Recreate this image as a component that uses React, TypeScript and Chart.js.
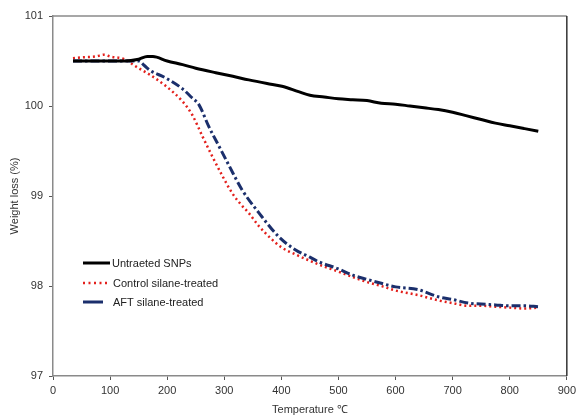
import React, { useEffect, useRef } from "react";
import { Chart, registerables } from "chart.js";

Chart.register(...registerables);

// Untreated SNPs
const untreatedTemp = [35, 50, 75, 100, 125, 150, 165, 175, 200, 227, 250, 285, 315, 343, 375, 401, 430, 450, 475, 500, 525, 550, 575, 600, 625, 650, 675, 700, 725, 750, 775, 800, 825, 850];
const untreatedWeight = [100.5, 100.5, 100.5, 100.5, 100.5, 100.52, 100.55, 100.55, 100.5, 100.46, 100.42, 100.37, 100.33, 100.29, 100.25, 100.22, 100.16, 100.12, 100.1, 100.08, 100.07, 100.06, 100.03, 100.02, 100.0, 99.98, 99.96, 99.93, 99.89, 99.85, 99.81, 99.78, 99.75, 99.72];

// Control silane-treated
const controlTemp = [35, 50, 75, 90, 100, 125, 140, 150, 169, 198, 227, 244, 262, 279, 297, 314, 330, 343, 360, 383, 400, 425, 450, 465, 500, 525, 552, 575, 600, 639, 675, 700, 727, 750, 775, 800, 825, 850];
const controlWeight = [100.53, 100.54, 100.55, 100.57, 100.55, 100.52, 100.46, 100.42, 100.35, 100.22, 100.05, 99.9, 99.66, 99.44, 99.22, 99.03, 98.9, 98.81, 98.67, 98.52, 98.43, 98.35, 98.28, 98.24, 98.16, 98.1, 98.04, 98.0, 97.95, 97.9, 97.84, 97.81, 97.78, 97.78, 97.77, 97.76, 97.75, 97.76];

// AFT silane-treated
const aftTemp = [35, 50, 75, 100, 125, 150, 160, 169, 198, 227, 242, 256, 273, 291, 309, 331, 361, 395, 425, 450, 465, 500, 525, 552, 575, 600, 639, 675, 700, 727, 750, 775, 800, 825, 850];
const aftWeight = [100.5, 100.5, 100.5, 100.5, 100.5, 100.5, 100.45, 100.4, 100.31, 100.19, 100.1, 100.01, 99.77, 99.55, 99.33, 99.07, 98.81, 98.55, 98.4, 98.32, 98.27, 98.19, 98.12, 98.07, 98.03, 97.99, 97.96, 97.88, 97.85, 97.81, 97.8, 97.79, 97.78, 97.78, 97.77];

const seriesLabels = ["Untraeted SNPs", "Control silane-treated", "AFT silane-treated"];
const xTitle = "Temperature \u2103";
const yTitle = "Weight loss (%)";

const FONT = "'Liberation Sans', Arial, sans-serif";

const pairs = (xs: number[], ys: number[]) => xs.map((x, i) => ({ x, y: ys[i] }));

export default function App() {
  const ref = useRef<HTMLCanvasElement>(null);

  useEffect(() => {
    if (!ref.current) return;

    const boxPlugin = {
      id: "boxAndLegend",
      beforeDatasetsDraw(chart: any) {
        const { ctx, chartArea: a } = chart;
        ctx.save();
        ctx.lineWidth = 1.5;
        ctx.strokeStyle = "#8a8a8a";
        ctx.beginPath();
        ctx.moveTo(a.left, a.top);
        ctx.lineTo(a.right, a.top);
        ctx.stroke();
        ctx.strokeStyle = "#333";
        ctx.beginPath();
        ctx.moveTo(a.right, a.top);
        ctx.lineTo(a.right, a.bottom);
        ctx.stroke();
        ctx.restore();
      },
      afterDraw(chart: any) {
        const { ctx } = chart;
        const rows = [
          { y: 263, color: "#000", width: 3, dash: [] as number[], x2: 110, tx: 112 },
          { y: 283, color: "#e3201c", width: 2.5, dash: [2, 3.5], x2: 110, tx: 113 },
          { y: 302, color: "#1b2f6c", width: 3, dash: [] as number[], x2: 103, tx: 113 },
        ];
        ctx.save();
        rows.forEach((r, i) => {
          ctx.beginPath();
          ctx.setLineDash(r.dash);
          ctx.lineWidth = r.width;
          ctx.strokeStyle = r.color;
          ctx.moveTo(83, r.y);
          ctx.lineTo(r.x2, r.y);
          ctx.stroke();
          ctx.setLineDash([]);
          ctx.fillStyle = "#222";
          ctx.font = `11px ${FONT}`;
          ctx.textBaseline = "middle";
          ctx.textAlign = "left";
          ctx.fillText(seriesLabels[i], r.tx, r.y + 0.5);
        });
        ctx.restore();
      },
    };

    const chart = new Chart(ref.current, {
      type: "line",
      data: {
        datasets: [
          {
            label: seriesLabels[0],
            data: pairs(untreatedTemp, untreatedWeight),
            borderColor: "#000",
            borderWidth: 3,
            pointRadius: 0,
            cubicInterpolationMode: "monotone",
            order: 0,
          },
          {
            label: seriesLabels[1],
            data: pairs(controlTemp, controlWeight),
            borderColor: "#e3201c",
            borderWidth: 2.5,
            borderDash: [2, 3],
            pointRadius: 0,
            cubicInterpolationMode: "monotone",
            order: 2,
          },
          {
            label: seriesLabels[2],
            data: pairs(aftTemp, aftWeight),
            borderColor: "#1b2f6c",
            borderWidth: 3,
            borderDash: [9, 3, 2.5, 3],
            pointRadius: 0,
            cubicInterpolationMode: "monotone",
            order: 1,
          },
        ],
      },
      options: {
        animation: false,
        responsive: false,
        maintainAspectRatio: false,
        layout: { padding: { top: 16, right: 11, left: 0, bottom: 0 } },
        plugins: {
          legend: { display: false },
          tooltip: { enabled: false },
        },
        scales: {
          x: {
            type: "linear",
            min: 0,
            max: 900,
            ticks: {
              stepSize: 100,
              color: "#333",
              font: { family: FONT, size: 11 },
              padding: 4,
              maxRotation: 0,
            },
            grid: { display: true, drawOnChartArea: false, drawTicks: true, tickLength: 4, color: "#555", lineWidth: 1 },
            border: { display: true, color: "#8a8a8a", width: 1.5 },
            title: {
              display: true,
              text: xTitle,
              color: "#333",
              font: { family: FONT, size: 11 },
              padding: { top: 0, bottom: 0 },
            },
            afterFit: (s: any) => {
              s.height = 41;
            },
          },
          y: {
            type: "linear",
            min: 97,
            max: 101,
            ticks: {
              stepSize: 1,
              color: "#333",
              font: { family: FONT, size: 11 },
              padding: 6,
            },
            grid: { display: true, drawOnChartArea: false, drawTicks: true, tickLength: 4, color: "#555", lineWidth: 1 },
            border: { display: true, color: "#8a8a8a", width: 1.5 },
            title: {
              display: true,
              text: yTitle,
              color: "#333",
              font: { family: FONT, size: 11 },
              padding: { top: 8, bottom: 0 },
            },
            afterFit: (s: any) => {
              s.width = 53;
            },
          },
        },
      },
      plugins: [boxPlugin],
    } as any);

    return () => chart.destroy();
  }, []);

  return (
    <div style={{ position: "absolute", left: 0, top: 0, width: 580, height: 417, background: "#fff" }}>
      <canvas ref={ref} width={580} height={417} style={{ width: 580, height: 417, display: "block" }} />
    </div>
  );
}
